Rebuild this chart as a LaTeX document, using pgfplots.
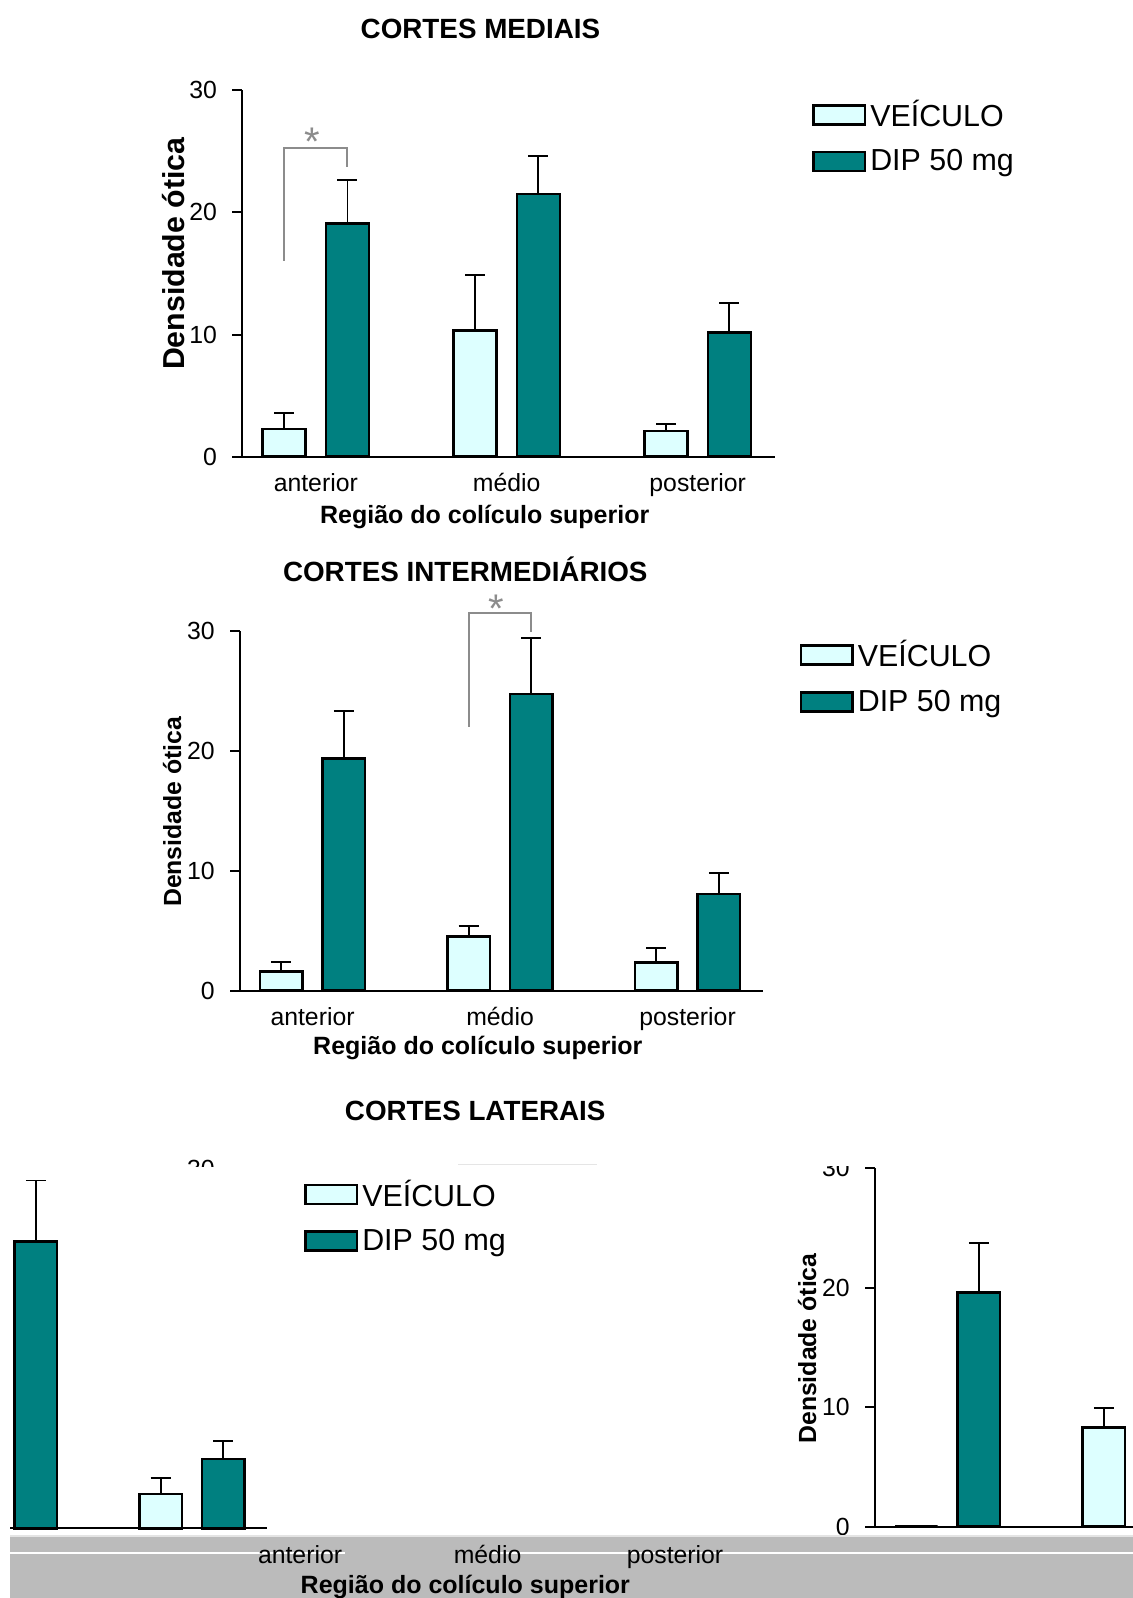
\documentclass[border=0pt]{standalone}
\usepackage{fontspec}
\setmainfont{Liberation Sans}
\usepackage{pgfplots}
\usepackage{pgfplotstable}
\pgfplotsset{compat=1.18}

\definecolor{veic}{HTML}{DDFFFF}
\definecolor{dip}{HTML}{008080}
\definecolor{sig}{HTML}{8C8C8C}
\definecolor{faixa}{HTML}{BBBBBB}

% Densidade ótica: média (y) e erro padrão (ey), por região
\pgfplotstableread{
x y ey
0 2.27 1.28
1 10.32 4.56
2 2.10 0.58
}\medVeh
\pgfplotstableread{
x y ey
0 19.11 3.55
1 21.49 3.16
2 10.16 2.40
}\medDip
\pgfplotstableread{
x y ey
0 1.58 0.84
1 4.50 0.89
2 2.36 1.17
}\intVeh
\pgfplotstableread{
x y ey
0 19.36 3.95
1 24.72 4.64
2 8.06 1.77
}\intDip
\pgfplotstableread{
x y ey
0 0.00 0.00
1 8.32 1.59
2 2.87 1.32
}\latVeh
\pgfplotstableread{
x y ey
0 19.59 4.13
1 24.00 5.11
2 5.78 1.56
}\latDip

\newcommand{\tickfont}{\fontsize{12.4}{14}\selectfont}

\pgfplotsset{
  errs/.style={
    error bars/y dir=plus, error bars/y explicit,
    error bars/error bar style={line width=0.9pt, black},
    error bars/error mark options={rotate=90, mark size=5pt, line width=0.9pt, black}},
  veh/.style={fill=veic, draw=black, line width=1.25pt, errs},
  dipp/.style={fill=dip, draw=black, line width=1.25pt, errs},
  painel/.style={
    scale only axis, anchor=south west, clip=false,
    ybar, ymin=0, ymax=30, ytick={0,10,20,30},
    xtick={0,1,2}, xticklabels={anterior,médio,posterior},
    axis lines=left, axis line style={-, line width=1pt, black},
    tick align=outside, major tick length=5pt,
    tick style={black, line width=1pt},
    xtick style={draw=none},
    ticklabel style={font=\tickfont},
    /pgf/number format/assume math mode=true,
    yticklabel style={inner sep=0pt, xshift=-7.5pt},
    xticklabel style={anchor=base, inner sep=0pt, yshift=-12.4pt},
    xlabel={Região do colículo superior},
    xlabel style={anchor=center, inner sep=0pt, font=\bfseries\fontsize{12.5}{14}\selectfont},
    ylabel={Densidade ótica},
    ylabel style={anchor=center, inner sep=0pt, text height=8.9pt, text depth=0pt},
    title style={anchor=center, yshift=-6pt, inner sep=0pt, text height=9.95pt, text depth=0pt,
      font=\bfseries\fontsize{13.9}{16}\selectfont},
    legend cell align=left,
    legend style={draw=none, fill=none, inner sep=0pt, anchor=north west,
      font=\fontsize{15.2}{18}\selectfont, row sep=6pt},
    every axis plot post/.append style={legend image code/.code={
      \draw[##1, line width=1.25pt] (0pt,-4.75pt) rectangle (25.8pt,4.75pt);}},
  },
  estreito/.style={width=261.35pt, xmin=-0.387, xmax=2.401, bar width=21.25pt},
  lateral/.style={painel, estreito, height=179.2pt,
    xlabel style={at={(axis description cs:0.455,-0.1618)}},
    ylabel style={at={(axis description cs:-0.1297,0.497)}, font=\bfseries\fontsize{12.4}{14}\selectfont},
    legend style={at={(axis description cs:1.070,0.985)}}},
}

\newcommand{\lateralplots}{%
  \addplot[veh, bar shift=-15.65pt] table[x=x, y=y, y error=ey] {\latVeh};
  \addplot[dipp, bar shift=15.65pt] table[x=x, y=y, y error=ey] {\latDip};
  \legend{VEÍCULO, DIP 50 mg}}

\begin{document}
\begin{tikzpicture}
\useasboundingbox (0pt,0pt) rectangle (566.5pt,799pt);

% ---------- CORTES MEDIAIS ----------
\begin{axis}[painel, at={(121.15pt,570.65pt)},
  width=266.35pt, height=183.2pt, xmin=-0.385, xmax=2.405, bar width=21.5pt,
  title={CORTES MEDIAIS},
  title style={at={(axis description cs:0.447,1.1692)}},
  xlabel style={at={(axis description cs:0.455,-0.1646)}},
  ylabel style={at={(axis description cs:-0.1245,0.554)}, font=\bfseries\fontsize{15.15}{18}\selectfont},
  legend style={at={(axis description cs:1.069,0.985)}}]
  \addplot[veh, bar shift=-15.8pt] table[x=x, y=y, y error=ey] {\medVeh};
  \addplot[dipp, bar shift=15.8pt] table[x=x, y=y, y error=ey] {\medDip};
  \legend{VEÍCULO, DIP 50 mg}
  \draw[sig, line width=1pt] ([xshift=-15.8pt]axis cs:0,16.03) -- ([xshift=-15.8pt]axis cs:0,25.31)
      -- ([xshift=15.8pt]axis cs:0,25.31) -- ([xshift=15.8pt]axis cs:0,23.75);
  \node[sig, inner sep=0pt, font=\fontsize{20}{20}\selectfont] at ([xshift=-1.75pt]axis cs:0,25.75) {*};
\end{axis}

% ---------- CORTES INTERMEDIÁRIOS ----------
\begin{axis}[painel, estreito, at={(120pt,303.65pt)}, height=180pt,
  title={CORTES INTERMEDIÁRIOS},
  title style={at={(axis description cs:0.431,1.1639)}},
  xlabel style={at={(axis description cs:0.455,-0.16)}},
  ylabel style={at={(axis description cs:-0.1297,0.497)}, font=\bfseries\fontsize{12.4}{14}\selectfont},
  legend style={at={(axis description cs:1.070,0.985)}}]
  \addplot[veh, bar shift=-15.65pt] table[x=x, y=y, y error=ey] {\intVeh};
  \addplot[dipp, bar shift=15.65pt] table[x=x, y=y, y error=ey] {\intDip};
  \legend{VEÍCULO, DIP 50 mg}
  \draw[sig, line width=1pt] ([xshift=-15.65pt]axis cs:1,22.0) -- ([xshift=-15.65pt]axis cs:1,31.5)
      -- ([xshift=15.65pt]axis cs:1,31.5) -- ([xshift=15.65pt]axis cs:1,29.92);
  \node[sig, inner sep=0pt, font=\fontsize{20}{20}\selectfont] at ([xshift=-2pt]axis cs:1,31.85) {*};
\end{axis}

% ---------- CORTES LATERAIS ----------
% plot area, wrapped horizontally
\begin{scope}
  \clip (5pt,31.5pt) rectangle (566.5pt,215.75pt);
  \begin{axis}[lateral, at={(437.5pt,35.65pt)}]
    \lateralplots
  \end{axis}
  \begin{axis}[lateral, at={(-127.75pt,34.85pt)}]
    \lateralplots
  \end{axis}
\end{scope}

% grey strip under the plot area
\fill[faixa] (5pt,0pt) rectangle (566.5pt,31.5pt);
\fill[white!60!faixa] (5pt,30.3pt) rectangle (566.5pt,31.5pt);
\draw[white, line width=0.7pt] (5pt,22.5pt) -- (172.5pt,22.5pt);
\draw[white, line width=0.7pt] (245pt,22.5pt) -- (566.5pt,22.5pt);

\begin{scope}
  \clip (5pt,0pt) rectangle (566.5pt,31.5pt);
  \begin{axis}[lateral, at={(113.75pt,34.5pt)}, yticklabels={}]
    \lateralplots
  \end{axis}
\end{scope}

% title strip
\begin{scope}
  \clip (0pt,215.75pt) rectangle (566.5pt,259pt);
  \begin{axis}[lateral, at={(120pt,35.1pt)},
    title={CORTES LATERAIS},
    title style={at={(axis description cs:0.45,1.1638)}}]
    \lateralplots
  \end{axis}
\end{scope}
\draw[black!10, line width=0.5pt] (229pt,216.5pt) -- (298.5pt,216.5pt);

\end{tikzpicture}
\end{document}
